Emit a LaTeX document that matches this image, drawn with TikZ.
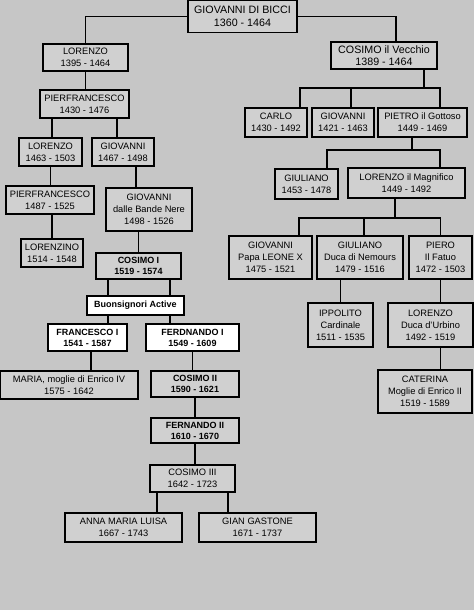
\documentclass[tikz,border=0pt]{standalone}
\usepackage{fontspec}
\setmainfont{Liberation Sans}
\usepackage{tikz}
\usepackage{xcolor}
\definecolor{bggray}{HTML}{C6C6C6}
\definecolor{boxgray}{HTML}{D0D0D0}
\tikzset{
  person/.style={draw, line width=1.8pt, fill=boxgray, align=center, inner sep=1pt,
    font=\fontsize{9.3}{12}\selectfont},
  head/.style={person, font=\fontsize{10.7}{12.5}\selectfont},
  ruler/.style={person, font=\bfseries\fontsize{9}{10.8}\selectfont},
  marked/.style={ruler, fill=white},
  sz/.style 2 args={minimum width=#1pt, minimum height=#2pt},
  link/.style={line width=1.6pt}
}

\begin{document}
\begin{tikzpicture}[x=1pt, y=-1pt]
                \useasboundingbox (0,0) rectangle (474,610);
                \fill[bggray] (0,0) rectangle (474,610);
                % capostipite
                \node[head, sz={109}{32}] (bicci) at (242.5,16.5) {GIOVANNI DI BICCI\\1360 - 1464};
                % ramo cadetto (Lorenzo)
                \node[person, sz={85}{27}] (lorenzoA) at (85.5,57.5) {LORENZO\\1395 - 1464};
                \node[person, sz={89}{28}] (pierA) at (84.5,104) {PIERFRANCESCO\\1430 - 1476};
                \node[person, sz={63}{28}] (lorenzoB) at (50.5,152) {LORENZO\\1463 - 1503};
                \node[person, sz={62}{28}] (giovA) at (123,152) {GIOVANNI\\1467 - 1498};
                \node[person, sz={88}{28}] (pierB) at (50,200) {PIERFRANCESCO\\1487 - 1525};
                \node[person, sz={62}{28}] (lorenzino) at (52,253) {LORENZINO\\1514 - 1548};
                \node[person, sz={86}{43}] (bande) at (149,209.5) {GIOVANNI\\dalle Bande Nere\\1498 - 1526};
                % granduchi
                \node[ruler, sz={85}{26}] (cosimoI) at (138.5,266) {COSIMO I\\1519 - 1574};
                \node[marked, sz={97}{19}] (buons) at (135.5,305.5) {Buonsignori Active};
                \node[marked, sz={79}{27}] (franc) at (87.5,337.5) {FRANCESCO I\\1541 - 1587};
                \node[marked, sz={93}{27}] (ferdI) at (192.5,337.5) {FERDNANDO I\\1549 - 1609};
                \node[person, sz={138}{28}] (maria) at (69,385) {MARIA, moglie di Enrico IV\\1575 - 1642};
                \node[ruler, sz={88}{26}] (cosimoII) at (195,384) {COSIMO II\\1590 - 1621};
                \node[ruler, sz={88}{25}] (fernII) at (195,430.5) {FERNANDO II\\1610 - 1670};
                \node[person, sz={85}{27}] (cosimoIII) at (192.5,478.5) {COSIMO III\\1642 - 1723};
                \node[person, sz={117}{29}] (anna) at (123.5,527.5) {ANNA MARIA LUISA\\1667 - 1743};
                \node[person, sz={117}{29}] (gian) at (257.5,527.5) {GIAN GASTONE\\1671 - 1737};
                % ramo principale (Cosimo il Vecchio)
                \node[head, sz={106}{27}] (cosimoV) at (384,55.5) {COSIMO il Vecchio\\1389 - 1464};
                \node[person, sz={62}{29}] (carlo) at (276,122.5) {CARLO\\1430 - 1492};
                \node[person, sz={62}{29}] (giovB) at (343,122.5) {GIOVANNI\\1421 - 1463};
                \node[person, sz={89}{29}] (pietro) at (422.5,122.5) {PIETRO il Gottoso\\1449 - 1469};
                \node[person, sz={63}{30}] (giuliA) at (306.5,184) {GIULIANO\\1453 - 1478};
                \node[person, sz={117}{30}] (magnif) at (406.5,183) {LORENZO il Magnifico\\1449 - 1492};
                \node[person, sz={83}{43}] (leone) at (270.5,257.5) {GIOVANNI\\Papa LEONE X\\1475 - 1521};
                \node[person, sz={86}{43}] (nemours) at (360,257.5) {GIULIANO\\Duca di Nemours\\1479 - 1516};
                \node[person, sz={63}{43}] (piero) at (440.5,257.5) {PIERO\\Il Fatuo\\1472 - 1503};
                \node[person, sz={65}{44}] (ippolito) at (340.5,325) {IPPOLITO\\Cardinale\\1511 - 1535};
                \node[person, sz={85}{44}] (urbino) at (430.5,325) {LORENZO\\Duca d'Urbino\\1492 - 1519};
                \node[person, sz={94}{43}] (caterina) at (425,391.5) {CATERINA\\Moglie di Enrico II\\1519 - 1589};
                % punti di diramazione
                \coordinate (barV) at (424,88);
                \coordinate (barP) at (412,150);
                \coordinate (barM) at (395,218);
                % collegamenti dal capostipite
                \draw[link] (bicci.west) -| (lorenzoA.north);
                \draw[link] (bicci.east) -| ([xshift=12pt]cosimoV.north);
                % ramo cadetto
                \draw[link] (lorenzoA.south) -- (lorenzoA.south |- pierA.north);
                \draw[link] ([xshift=1.5pt]lorenzoB.north) -- ([xshift=1.5pt]lorenzoB.north |- pierA.south);
                \draw[link] ([xshift=-6pt]giovA.north) -- ([xshift=-6pt]giovA.north |- pierA.south);
                \draw[link] (lorenzoB.south) -- (lorenzoB.south |- pierB.north);
                \draw[link] (lorenzino.north) -- (lorenzino.north |- pierB.south);
                \draw[link] ([xshift=13pt]giovA.south) -- ([xshift=13pt]giovA.south |- bande.north);
                \draw[link] (cosimoI.north) -- (cosimoI.north |- bande.south);
                % granduchi
                \draw[link] ([xshift=-30.5pt]cosimoI.south) -- ([xshift=-30.5pt]cosimoI.south |- buons.north);
                \draw[link] ([xshift=31.5pt]cosimoI.south) -- ([xshift=31.5pt]cosimoI.south |- buons.north);
                \draw[link] ([xshift=20.5pt]franc.north) -- ([xshift=20.5pt]franc.north |- buons.south);
                \draw[link] ([xshift=-22.5pt]ferdI.north) -- ([xshift=-22.5pt]ferdI.north |- buons.south);
                \draw[link] ([xshift=3.5pt]franc.south) -- ([xshift=3.5pt]franc.south |- maria.north);
                \draw[link] (ferdI.south) -- (ferdI.south |- cosimoII.north);
                \draw[link] (cosimoII.south) -- (fernII.north);
                \draw[link] (fernII.south) -- (fernII.south |- cosimoIII.north);
                \draw[link] ([xshift=33.5pt]anna.north) -- ([xshift=33.5pt]anna.north |- cosimoIII.south);
                \draw[link] ([xshift=-29.5pt]gian.north) -- ([xshift=-29.5pt]gian.north |- cosimoIII.south);
                % ramo principale
                \draw[link] (barV |- cosimoV.south) -- (barV);
                \draw[link] ([xshift=24pt]carlo.north) |- (barV) -| ([xshift=17.5pt]pietro.north);
                \draw[link] ([xshift=8pt]giovB.north) -- ([xshift=8pt]giovB.north |- barV);
                \draw[link] (barP |- pietro.south) -- (barP);
                \draw[link] ([xshift=20.5pt]giuliA.north) |- (barP) -| ([xshift=33.5pt]magnif.north);
                \draw[link] (barM |- magnif.south) -- (barM);
                \draw[link] ([xshift=28.5pt]leone.north) |- (barM) -| (piero.north);
                \draw[link] ([xshift=4pt]nemours.north) -- ([xshift=4pt]nemours.north |- barM);
                \draw[link] (ippolito.north) -- (ippolito.north |- nemours.south);
                \draw[link] (piero.south) -- (piero.south |- urbino.north);
                \draw[link] ([xshift=10pt]urbino.south) -- ([xshift=10pt]urbino.south |- caterina.north);
            \end{tikzpicture}
\end{document}
